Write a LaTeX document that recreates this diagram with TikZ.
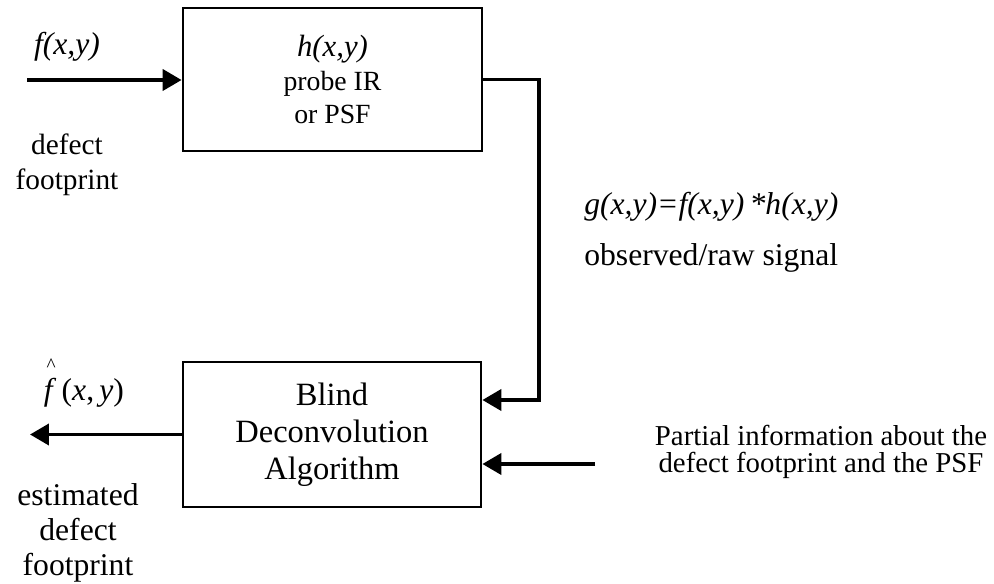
\documentclass[tikz,border=0pt]{standalone}
\usepackage{fontspec}
\setmainfont{Liberation Serif}
\usetikzlibrary{arrows.meta}
\begin{document}
\begin{tikzpicture}[x=0.02cm,y=-0.02cm,
  every node/.style={font=\fontsize{16pt}{19pt}\selectfont},
  big/.style={font=\fontsize{18pt}{20pt}\selectfont},
  blockbox/.style={draw,line width=1.6pt,inner sep=0pt,align=center},
  conn/.style={line width=2.2pt},
  arr/.style={conn,-{Triangle[length=0.38cm,width=0.42cm]}},
  lbl/.style={align=center,inner sep=0pt}]
\useasboundingbox (0,0) rectangle (994,584);
\node[blockbox,minimum width=5.98cm,minimum height=2.86cm,
  font=\fontsize{15.8pt}{19pt}\selectfont] (top) at (332.5,79.5)
  {{\fontsize{17.5pt}{19pt}\selectfont\textit{h(x,y)}}\\probe IR\\or PSF};
\node[blockbox,minimum width=5.96cm,minimum height=2.9cm,
  font=\fontsize{18.5pt}{21pt}\selectfont] (bot) at (332,434.5)
  {Blind\\Deconvolution\\Algorithm};
\coordinate (in0) at (27,80);
\coordinate (c1) at (539,400);
\coordinate (p0) at (595,464);
\coordinate (o1) at (30,437);
\draw[arr] (in0) -- (in0 -| top.west);
\draw[arr] (top.east) -| (c1) -- (c1 -| bot.east);
\draw[arr] (p0) -- (p0 -| bot.east);
\draw[arr] (bot.west) -- (o1 |- bot.west);
\node[lbl,big] (fl) at (67,47) {\textit{f(x,y)}};
\node[lbl,font=\fontsize{16.7pt}{20pt}\selectfont] (dfl) at (67,165) {defect\\footprint};
\node[lbl,big] (fh) at (84,383)
  {\rlap{\hspace{0.08em}\raisebox{0.9em}{\fontsize{11pt}{11pt}\selectfont\^{}}}\textit{f}\,(\textit{x},\,\textit{y})};
\node[lbl,big] (est) at (78,533) {estimated\\defect\\footprint};
\node[lbl,anchor=west,big] (geq) at (584,207) {\textit{g(x,y)=f(x,y)\,*h(x,y)}};
\node[lbl,anchor=west,big] (obs) at (584,258) {observed/raw signal};
\node[lbl,font=\fontsize{16.4pt}{15.5pt}\selectfont] (part) at (821,452)
  {Partial information about the\\defect footprint and the PSF};
\end{tikzpicture}
\end{document}
